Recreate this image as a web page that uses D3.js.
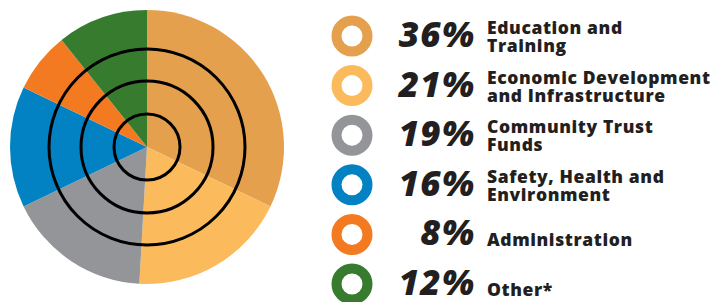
<!DOCTYPE html>
<html>
<head>
<meta charset="utf-8">
<script src="https://cdn.jsdelivr.net/npm/d3@7"></script>
<style>
  html, body { margin: 0; padding: 0; background: #fff; }
  svg { display: block; }
</style>
</head>
<body>
<div id="chart"></div>
<script>
const width = 714;
const height = 302;

// data
const categories = ["Education and Training", "Economic Development and Infrastructure",
  "Community Trust Funds", "Safety, Health and Environment", "Administration", "Other*"];
const labelLines = [["Education and", "Training"], ["Economic Development", "and Infrastructure"],
  ["Community Trust", "Funds"], ["Safety, Health and", "Environment"], ["Administration"], ["Other*"]];
const values = [36, 21, 19, 16, 8, 12];
const colors = ["#e4a04d", "#fbbb5d", "#939598", "#0282c2", "#f37a21", "#377b2f"];
const ringRadii = [33, 66, 98];

const cx = 147, cy = 147, radius = 137;

const svg = d3.select("#chart").append("svg")
  .attr("width", width)
  .attr("height", height);

const pie = d3.pie().sort(null).value(d => d);
const arc = d3.arc().innerRadius(0).outerRadius(radius);

const g = svg.append("g").attr("transform", `translate(${cx},${cy})`);

g.selectAll("path.slice")
  .data(pie(values))
  .join("path")
  .attr("class", "slice")
  .attr("d", arc)
  .attr("fill", (d, i) => colors[i]);

g.selectAll("circle.ring")
  .data(ringRadii)
  .join("circle")
  .attr("class", "ring")
  .attr("r", d => d)
  .attr("fill", "none")
  .attr("stroke", "#000")
  .attr("stroke-width", 3);

// legend
const y = d3.scalePoint()
  .domain(categories)
  .range([36, 284]);

const legend = svg.append("g");

const row = legend.selectAll("g.row")
  .data(categories)
  .join("g")
  .attr("class", "row")
  .attr("transform", d => `translate(0,${y(d)})`);

row.append("circle")
  .attr("cx", 352)
  .attr("cy", 0)
  .attr("r", 15.5)
  .attr("fill", "none")
  .attr("stroke", (d, i) => colors[i])
  .attr("stroke-width", 10);

row.append("text")
  .attr("x", 475)
  .attr("y", 11)
  .attr("text-anchor", "end")
  .attr("font-family", "'Open Sans', sans-serif")
  .attr("font-weight", 800)
  .attr("font-style", "italic")
  .attr("font-size", 35)
  .attr("letter-spacing", 1)
  .attr("fill", "#231f20")
  .text((d, i) => values[i] + "%");

row.append("text")
  .attr("x", 487)
  .attr("y", (d, i) => labelLines[i].length > 1 ? -2 : 12)
  .attr("font-family", "'Open Sans', sans-serif")
  .attr("font-weight", 800)
  .attr("font-size", 17.5)
  .attr("letter-spacing", 0.6)
  .attr("fill", "#231f20")
  .selectAll("tspan")
  .data((d, i) => labelLines[i])
  .join("tspan")
  .attr("x", 487)
  .attr("dy", (d, j) => j === 0 ? 0 : 18)
  .text(d => d);
</script>
</body>
</html>
